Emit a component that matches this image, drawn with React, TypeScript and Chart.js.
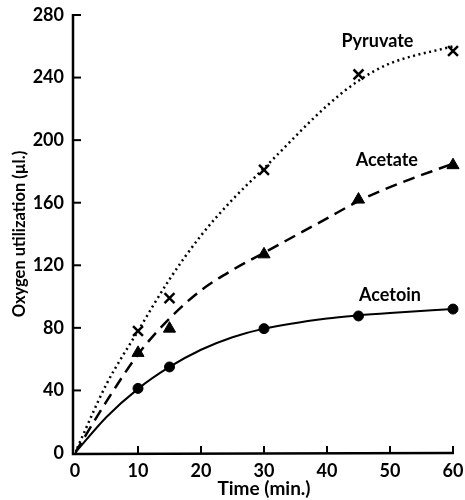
import React, { useEffect, useRef } from "react";
import { Chart, registerables } from "chart.js";

Chart.register(...registerables);

// Smooth fitted curves
const curveTimes = [0, 5, 10, 15, 20, 25, 30, 40, 45, 50, 60];
const pyruvateCurve = [0, 44, 78, 111, 139, 162, 182, 222, 238, 249, 260];
const acetateCurve = [0, 33, 63, 86, 104, 117, 128, 150, 161, 170, 185];
const acetoinCurve = [0, 23, 41, 55, 66, 74, 79.5, 86, 88, 89.5, 92];

// Measured points
const pointTimes = [10, 15, 30, 45, 60];
const pyruvatePts = [78, 99, 181, 242, 257];
const acetatePts = [64, 79.5, 127, 162, 184];
const acetoinPts = [41.3, 55, 79.5, 87.6, 92];

// Curve labels (anchored in data units)
const seriesNames = ["Pyruvate", "Acetate", "Acetoin"];
const labelX = [48, 49.5, 50];
const labelY = [263, 187, 101];

const xTicks = [0, 10, 20, 30, 40, 50, 60];
const yTicks = [0, 40, 80, 120, 160, 200, 240, 280];

const FONT = "Lato, 'Open Sans', sans-serif";

const toXY = (xs: number[], ys: number[]) => xs.map((x, i) => ({ x, y: ys[i] }));

const axesPlugin = {
  id: "customAxes",
  afterDraw(chart: any) {
    const { ctx, scales } = chart;
    const xs = scales.x;
    const ys = scales.y;
    const axX = xs.getPixelForValue(0) - 2;
    const axY = ys.getPixelForValue(0);
    ctx.save();
    ctx.strokeStyle = "#000";
    ctx.lineWidth = 2.5;
    ctx.lineCap = "butt";
    ctx.beginPath();
    ctx.moveTo(axX, ys.getPixelForValue(280) - 1);
    ctx.lineTo(axX, axY + 1);
    ctx.lineTo(xs.getPixelForValue(60) + 1, axY);
    ctx.stroke();
    ctx.lineWidth = 2;
    yTicks.forEach((v) => {
      if (v === 0) return;
      const py = ys.getPixelForValue(v);
      ctx.beginPath();
      ctx.moveTo(axX, py);
      ctx.lineTo(axX + 8, py);
      ctx.stroke();
    });
    xTicks.forEach((v) => {
      if (v === 0) return;
      const px = xs.getPixelForValue(v);
      ctx.beginPath();
      ctx.moveTo(px, axY);
      ctx.lineTo(px, axY - 7);
      ctx.stroke();
    });
    ctx.fillStyle = "#000";
    ctx.font = `bold 18px ${FONT}`;
    ctx.textAlign = "center";
    ctx.textBaseline = "middle";
    seriesNames.forEach((n, i) => {
      ctx.fillText(n, xs.getPixelForValue(labelX[i]), ys.getPixelForValue(labelY[i]));
    });
    ctx.restore();
  },
};

export default function App() {
  const ref = useRef<HTMLCanvasElement | null>(null);
  useEffect(() => {
    if (!ref.current) return;
    const chart = new Chart(ref.current, {
      type: "line",
      data: {
        datasets: [
          {
            data: toXY(curveTimes, pyruvateCurve),
            borderColor: "#000",
            borderWidth: 2.5,
            borderDash: [2, 3.5],
            pointRadius: 0,
            cubicInterpolationMode: "monotone",
            fill: false,
          },
          {
            data: toXY(curveTimes, acetateCurve),
            borderColor: "#000",
            borderWidth: 2.5,
            borderDash: [12, 7],
            pointRadius: 0,
            cubicInterpolationMode: "monotone",
            fill: false,
          },
          {
            data: toXY(curveTimes, acetoinCurve),
            borderColor: "#000",
            borderWidth: 2,
            pointRadius: 0,
            cubicInterpolationMode: "monotone",
            fill: false,
          },
          {
            data: toXY(pointTimes, pyruvatePts),
            showLine: false,
            clip: false,
            pointStyle: "crossRot",
            pointRadius: 7,
            pointBorderWidth: 2.5,
            pointBorderColor: "#000",
            pointBackgroundColor: "#000",
          },
          {
            data: toXY(pointTimes, acetatePts),
            showLine: false,
            clip: false,
            pointStyle: "triangle",
            pointRadius: 7,
            pointBorderWidth: 1,
            pointBorderColor: "#000",
            pointBackgroundColor: "#000",
          },
          {
            data: toXY(pointTimes, acetoinPts),
            showLine: false,
            clip: false,
            pointStyle: "circle",
            pointRadius: 5,
            pointBorderWidth: 1,
            pointBorderColor: "#000",
            pointBackgroundColor: "#000",
          },
        ],
      },
      options: {
        animation: false,
        responsive: true,
        maintainAspectRatio: false,
        layout: { padding: { top: 15, right: 12, left: 0, bottom: 0 } },
        plugins: { legend: { display: false }, tooltip: { enabled: false } },
        scales: {
          x: {
            type: "linear",
            min: 0,
            max: 60,
            afterFit: (s: any) => {
              s.height = 47;
              s.paddingLeft = 0;
              s.paddingRight = 0;
            },
            grid: { display: false, drawTicks: false },
            border: { display: false },
            ticks: {
              stepSize: 10,
              padding: 7,
              color: "#000",
              font: { family: FONT, size: 18, weight: "bold" },
            },
            title: {
              display: true,
              text: "Time (min.)",
              color: "#000",
              font: { family: FONT, size: 19, weight: "bold" },
              padding: { top: 0, bottom: 0 },
            },
          },
          y: {
            min: 0,
            max: 280,
            afterFit: (s: any) => {
              s.width = 75;
              s.paddingTop = 0;
              s.paddingBottom = 0;
            },
            grid: { display: false, drawTicks: false },
            border: { display: false },
            ticks: {
              stepSize: 40,
              padding: 11,
              color: "#000",
              font: { family: FONT, size: 18, weight: "bold" },
            },
            title: {
              display: true,
              text: "Oxygen utilization (µl.)",
              color: "#000",
              font: { family: FONT, size: 16.5, weight: "bold" },
              padding: { top: 10, bottom: 0 },
            },
          },
        },
      },
      plugins: [axesPlugin],
    });
    return () => chart.destroy();
  }, []);
  return (
    <div style={{ position: "absolute", left: 0, top: 0, width: 465, height: 500 }}>
      <canvas ref={ref} />
    </div>
  );
}
